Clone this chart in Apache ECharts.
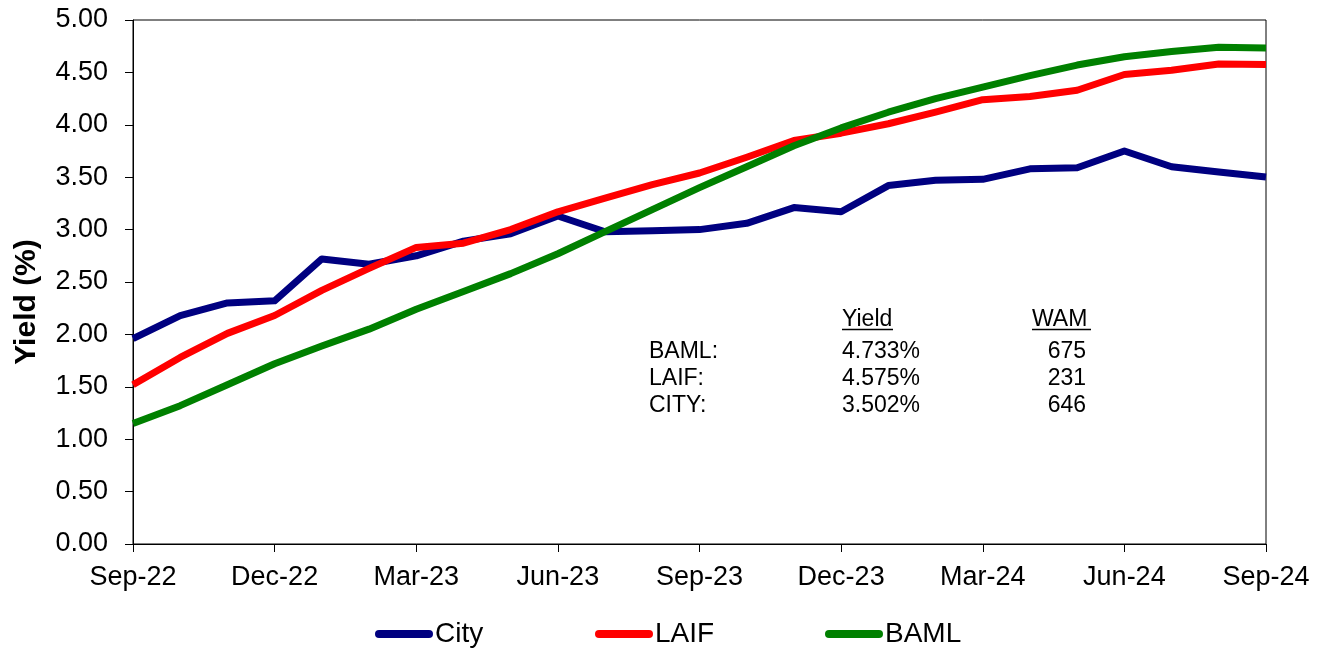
<!DOCTYPE html>
<html>
<head>
<meta charset="utf-8">
<title>Yield</title>
<script src="https://cdn.jsdelivr.net/npm/echarts@6/dist/echarts.min.js"></script>
<style>
  html, body { margin: 0; padding: 0; background: #fff; }
  #main { width: 1325px; height: 651px; }
</style>
</head>
<body>
<div id="main"></div>
<script>
// monthly categories, Sep-22 .. Sep-24
var months = ['Sep-22', 'Oct-22', 'Nov-22', 'Dec-22', 'Jan-23', 'Feb-23', 'Mar-23', 'Apr-23',
  'May-23', 'Jun-23', 'Jul-23', 'Aug-23', 'Sep-23', 'Oct-23', 'Nov-23', 'Dec-23',
  'Jan-24', 'Feb-24', 'Mar-24', 'Apr-24', 'May-24', 'Jun-24', 'Jul-24', 'Aug-24', 'Sep-24']

// yields (%)
var city = [1.96, 2.18, 2.30, 2.32, 2.72, 2.67, 2.75, 2.89, 2.96, 3.13, 2.98, 2.99, 3.00,
  3.06, 3.21, 3.17, 3.42, 3.47, 3.48, 3.58, 3.59, 3.75, 3.60, 3.55, 3.502]
var laif = [1.52, 1.78, 2.01, 2.18, 2.42, 2.63, 2.83, 2.87, 3.00, 3.17, 3.30, 3.43, 3.54,
  3.69, 3.85, 3.92, 4.01, 4.12, 4.24, 4.27, 4.33, 4.48, 4.52, 4.58, 4.575]
var baml = [1.15, 1.32, 1.52, 1.72, 1.89, 2.05, 2.24, 2.41, 2.58, 2.77, 2.98, 3.19, 3.40,
  3.60, 3.80, 3.97, 4.12, 4.25, 4.36, 4.47, 4.57, 4.65, 4.70, 4.74, 4.733]

// summary table
var tableNames = ['BAML:', 'LAIF:', 'CITY:']
var tableYield = ['4.733%', '4.575%', '3.502%']
var tableWam = ['675', '231', '646']

var font = 'Liberation Sans, Arial, sans-serif'
var legendIcon = 'path://M4,0 H54 A4,4 0 0 1 54,8 H4 A4,4 0 0 1 4,0 Z'

function makeLegend (name, left) {
  return {
    data: [name],
    left: left,
    top: 620,
    padding: 0,
    icon: legendIcon,
    itemWidth: 58,
    itemHeight: 8,
    textStyle: { fontFamily: font, fontSize: 28, color: '#000', padding: [0, 0, 0, -3] },
    selectedMode: false
  }
}

// axis title and table texts
var graphics = [{
  type: 'text',
  x: 27, y: 302, rotation: Math.PI / 2,
  style: { text: 'Yield (%)', font: 'bold 30px ' + font, fill: '#000', align: 'center', verticalAlign: 'middle' }
}, {
  type: 'text', x: 842, y: 320,
  style: { text: 'Yield', font: '23px ' + font, fill: '#000', align: 'left', verticalAlign: 'middle' }
}, {
  type: 'text', x: 1032, y: 320,
  style: { text: 'WAM', font: '23px ' + font, fill: '#000', align: 'left', verticalAlign: 'middle' }
}, {
  type: 'line', shape: { x1: 842, y1: 329.5, x2: 893, y2: 329.5 }, style: { stroke: '#000', lineWidth: 1.5 }
}, {
  type: 'line', shape: { x1: 1032, y1: 329.5, x2: 1091, y2: 329.5 }, style: { stroke: '#000', lineWidth: 1.5 }
}]
tableNames.forEach(function (n, i) {
  var y = 352 + i * 27
  graphics.push({ type: 'text', x: 649, y: y, style: { text: n, font: '23px ' + font, fill: '#000', align: 'left', verticalAlign: 'middle' } })
  graphics.push({ type: 'text', x: 842, y: y, style: { text: tableYield[i], font: '23px ' + font, fill: '#000', align: 'left', verticalAlign: 'middle' } })
  graphics.push({ type: 'text', x: 1086, y: y, style: { text: tableWam[i], font: '23px ' + font, fill: '#000', align: 'right', verticalAlign: 'middle' } })
})

var chart = echarts.init(document.getElementById('main'))
chart.setOption({
  animation: false,
  backgroundColor: '#fff',
  grid: {
    left: 133, right: 59, top: 20, bottom: 107,
    show: true, borderColor: '#000', borderWidth: 1,
    outerBoundsMode: 'none'
  },
  legend: [makeLegend('City', 375), makeLegend('LAIF', 595), makeLegend('BAML', 825)],
  xAxis: {
    type: 'category',
    data: months,
    boundaryGap: false,
    axisLine: { lineStyle: { color: '#000', width: 1 } },
    axisTick: { interval: 2, length: 8, lineStyle: { color: '#000' } },
    axisLabel: { interval: 2, margin: 20, color: '#000', fontSize: 27, fontFamily: font }
  },
  yAxis: {
    type: 'value',
    min: 0, max: 5, interval: 0.5,
    splitLine: { show: false },
    axisLine: { show: true, lineStyle: { color: '#000', width: 1 } },
    axisTick: { show: true, length: 8, lineStyle: { color: '#000' } },
    axisLabel: {
      margin: 25, color: '#000', fontSize: 27, fontFamily: font,
      formatter: function (v) { return v.toFixed(2) }
    }
  },
  series: [
    { name: 'City', type: 'line', data: city, symbol: 'none', color: '#000080',
      lineStyle: { width: 7, color: '#000080', join: 'round' } },
    { name: 'LAIF', type: 'line', data: laif, symbol: 'none', color: '#ff0000',
      lineStyle: { width: 7, color: '#ff0000', join: 'round' } },
    { name: 'BAML', type: 'line', data: baml, symbol: 'none', color: '#008000',
      lineStyle: { width: 7, color: '#008000', join: 'round' } }
  ],
  graphic: graphics
})
</script>
</body>
</html>
